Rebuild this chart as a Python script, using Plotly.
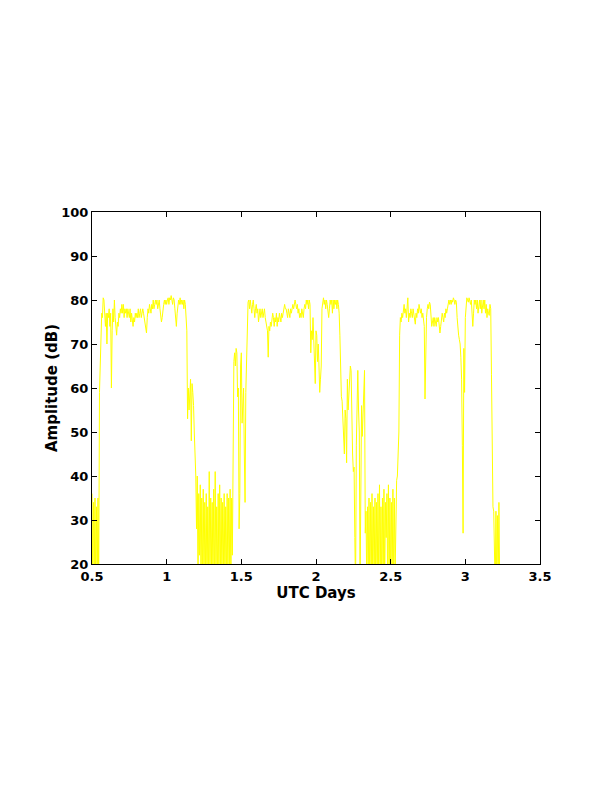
import numpy as np
import plotly.graph_objects as go

# Sampling: UTC days from 0.5 in steps of 0.005
t_start = 0.5
t_step = 0.005

amp_rows = [
    # 0.50 - 0.595
    [36, 15, 34, 18, 35, 14, 33, 16, 35, 15, 59, 66, 73, 77, 76, 80.5, 80, 78, 74, 77],
    # 0.60
    [70, 77, 76, 78, 74, 77, 60, 73, 78, 75, 80, 76, 73, 72, 75, 74, 77, 76, 78, 77],
    # 0.70
    [79, 77, 79, 76, 78, 77, 78, 76, 78, 77, 76, 78, 75, 77, 75, 74, 76, 75, 77, 76],
    # 0.80
    [77, 76, 78, 76, 77, 78, 76, 77, 78, 77, 76, 74, 73, 72.5, 76, 78, 77, 79, 78, 77],
    # 0.90
    [79, 78, 80, 78, 79, 80, 79, 80, 78, 79, 80, 78, 77, 75, 76, 78, 79, 80, 79, 80],
    # 1.00
    [79, 80, 80.5, 79, 80.5, 80, 81, 80, 79, 80.5, 80, 78, 76, 74, 77, 79, 80, 79, 80.5, 79],
    # 1.10
    [80, 79, 80, 78, 80, 79, 77, 73, 53, 60, 55, 58, 62, 48, 61, 59, 56, 50, 46, 40],
    # 1.20
    [28, 40, 15, 36, 22, 38, 14, 35, 17, 37, 15, 34, 18, 36, 13, 33, 16, 41, 15, 35],
    # 1.30
    [20, 34, 15, 37, 14, 41, 17, 33, 16, 36, 15, 38, 18, 35, 14, 34, 19, 36, 15, 33],
    # 1.40
    [16, 36, 15, 35, 20, 37, 14, 35, 22, 57, 66, 68, 65, 69, 68, 58, 60, 28, 36, 65],
    # 1.50
    [68, 52, 56, 60, 45, 34, 59, 67, 77, 79.5, 80, 78, 80, 79, 77, 79, 80, 78, 76, 78],
    # 1.60
    [79, 77, 78, 75, 77, 78, 76, 77, 78, 76, 77, 78, 76, 75, 74, 73, 67, 74, 73, 75],
    # 1.70
    [74, 76, 77, 76, 74, 76, 75, 77, 74, 76, 75, 77, 76, 75, 77, 76, 77, 78, 79, 78],
    # 1.80
    [78, 77, 76, 78, 77, 76, 78, 77, 78, 79, 78, 79, 80, 79, 78, 79, 77, 78, 76, 77],
    # 1.90
    [76, 78, 77, 76, 78, 79, 78, 80, 79, 80, 78, 80, 79, 68, 73, 71, 76, 69, 63, 61],
    # 2.00
    [73, 72, 66, 70, 65, 59, 62, 65, 78, 80, 80.5, 79, 80, 78, 80, 79, 77, 76, 78, 80],
    # 2.10
    [79, 80, 77, 80, 78, 80, 79, 80, 78, 80, 79, 77, 72, 61, 58, 57, 53, 52, 45, 55],
    # 2.20
    [53, 43, 62, 55, 58, 63, 65, 64, 49, 45, 41, 42, 26, 14, 47, 56, 64, 55, 50, 14],
    # 2.30
    [37, 56, 49, 55, 63, 64, 27, 32, 15, 33, 18, 35, 14, 34, 17, 36, 15, 33, 19, 35],
    # 2.40
    [14, 34, 16, 36, 15, 38, 18, 33, 14, 35, 16, 37, 15, 34, 26, 36, 14, 38, 17, 35],
    # 2.50
    [15, 34, 16, 37, 14, 35, 18, 33, 39, 40, 49, 50, 72, 76, 75, 77, 76, 78, 79, 77],
    # 2.60
    [78, 76, 80, 80.5, 75, 77, 76, 78, 77, 76, 78, 77, 75, 74.5, 77, 76, 78, 77, 79, 78],
    # 2.70
    [77, 78, 76, 77, 75, 74, 57.5, 73, 76, 78, 79, 78, 79.5, 79, 76, 74, 75, 76, 74, 76],
    # 2.80
    [75, 74, 76, 75, 76, 74, 72.5, 74, 75, 77, 76, 75, 77, 76, 78, 77, 78, 79, 80, 79],
    # 2.90
    [80, 79, 80, 79.5, 80.5, 80, 79, 80, 79.5, 76, 73, 72, 71, 70, 67, 62, 47, 27, 69, 59],
    # 3.00
    [76, 80, 80.5, 80, 79.5, 80.5, 80, 79, 80, 78, 74, 77, 80, 79, 80, 78, 80, 77, 79, 80],
    # 3.10
    [78, 80, 77, 79, 80, 78, 80, 77, 79, 76, 78, 77, 76.5, 79, 78, 63, 39, 33, 32, 25],
    # 3.20
    [14, 32, 15, 31, 16, 34, 15],
]

amplitude = [v for row in amp_rows for v in row]
utc_days = [t_start + i * t_step for i in range(len(amplitude))]

x_ticks = [0.5, 1, 1.5, 2, 2.5, 3, 3.5]
x_ticklabels = ["0.5", "1", "1.5", "2", "2.5", "3", "3.5"]
y_ticks = [20, 30, 40, 50, 60, 70, 80, 90, 100]

fig = go.Figure()
fig.add_trace(go.Scatter(
    x=utc_days, y=amplitude, mode="lines",
    line=dict(color="#ffff00", width=1),
    hoverinfo="skip", showlegend=False,
))

tick_font = dict(family="DejaVu Sans", size=13, color="black", weight="bold")
title_font = dict(family="DejaVu Sans", size=15, color="black", weight="bold")

fig.update_layout(
    width=612, height=792,
    margin=dict(l=84, r=80, t=204, b=236, pad=0),
    paper_bgcolor="white", plot_bgcolor="white",
    font=tick_font,
    showlegend=False,
)
fig.update_xaxes(
    range=[0.5, 3.5], tickvals=x_ticks, ticktext=x_ticklabels,
    showline=True, linecolor="black", linewidth=1, mirror="ticks",
    ticks="inside", ticklen=5, tickcolor="black", tickwidth=1,
    showgrid=False, zeroline=False,
    title=dict(text="UTC Days", font=title_font, standoff=0),
    tickfont=tick_font,
)
fig.update_yaxes(
    range=[20, 100], tickvals=y_ticks,
    showline=True, linecolor="black", linewidth=1, mirror="ticks",
    ticks="inside", ticklen=5, tickcolor="black", tickwidth=1,
    showgrid=False, zeroline=False,
    title=dict(text="Amplitude (dB)", font=title_font, standoff=0),
    tickfont=tick_font,
)

fig.write_html("out.html")
